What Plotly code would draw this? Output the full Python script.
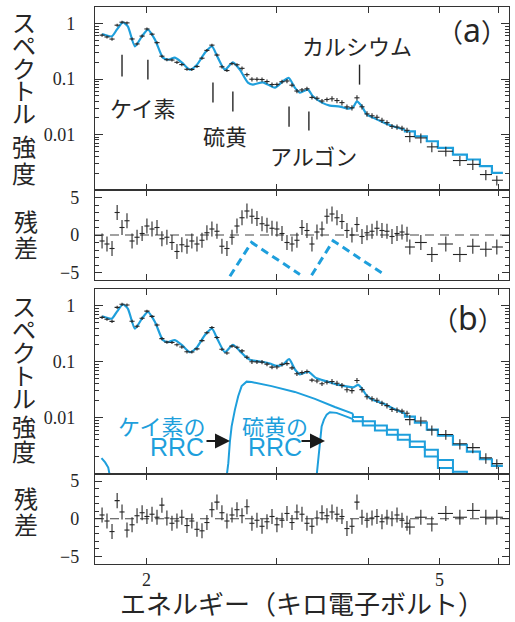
import math
import plotly.graph_objects as go

# ---------------- data ----------------
# narrow bins (keV), spectrum value, 1-sigma error
energy = [1.738, 1.765, 1.793, 1.822, 1.850, 1.879, 1.909, 1.939, 1.970, 2.000,
          2.032, 2.064, 2.096, 2.129, 2.163, 2.197, 2.231, 2.267, 2.302, 2.339,
          2.376, 2.413, 2.451, 2.490, 2.529, 2.569, 2.610, 2.651, 2.693, 2.735,
          2.778, 2.822, 2.867, 2.912, 2.958, 3.004, 3.052, 3.100, 3.149, 3.198,
          3.249, 3.300, 3.352, 3.405, 3.459, 3.513, 3.569, 3.625, 3.682, 3.740,
          3.799, 3.859, 3.920, 3.982, 4.045, 4.108, 4.173, 4.239, 4.306, 4.374,
          4.443, 4.513]
flux = [0.621, 0.576, 0.528, 0.940, 1.064, 1.034, 0.530, 0.431, 0.598, 0.803,
        0.647, 0.455, 0.259, 0.224, 0.221, 0.201, 0.183, 0.1505, 0.1496, 0.1694,
        0.2384, 0.330, 0.410, 0.272, 0.1669, 0.1429, 0.1899, 0.1817, 0.1565, 0.1205,
        0.0996, 0.0992, 0.0984, 0.0905, 0.0799, 0.0803, 0.0898, 0.0925, 0.0777, 0.0610,
        0.0639, 0.0669, 0.0468, 0.0451, 0.0403, 0.0429, 0.0442, 0.0411, 0.0377, 0.0316,
        0.0304, 0.0460, 0.0317, 0.0236, 0.0218, 0.0205, 0.0181, 0.0164, 0.01405, 0.01365,
        0.01304, 0.01193]
flux_err = [0.040, 0.037, 0.034, 0.060, 0.068, 0.066, 0.034, 0.028, 0.038, 0.051,
            0.041, 0.029, 0.017, 0.014, 0.014, 0.013, 0.012, 0.0096, 0.0096, 0.011,
            0.015, 0.021, 0.026, 0.017, 0.011, 0.0091, 0.012, 0.012, 0.013, 0.010,
            0.0086, 0.0085, 0.0085, 0.0078, 0.0069, 0.0069, 0.0077, 0.0080, 0.0067, 0.0052,
            0.0055, 0.0058, 0.0040, 0.0039, 0.0035, 0.0037, 0.0048, 0.0045, 0.0041, 0.0034,
            0.0033, 0.0050, 0.0035, 0.0026, 0.0024, 0.0022, 0.0020, 0.0018, 0.0015, 0.0015,
            0.0014, 0.0013]
resid_a = [-0.8, -1.2, -1.8, 3.0, 1.0, 1.9, -0.8, -0.3, 0.2, 1.2,
           0.8, 1.0, -0.5, -0.3, -1.0, -2.2, -1.3, -1.5, -0.8, -1.2,
           -0.7, 0.3, 0.8, 0.5, -1.5, -1.8, -0.3, 1.2, 2.3, 3.2,
           2.5, 2.2, 1.5, 1.3, 0.9, 0.8, 0.2, -1.0, -1.2, -0.7,
           1.0, 0.6, -1.2, 0.4, 0.8, 2.5, 2.8, 2.3, 1.8, 0.6,
           0.0, 1.4, -0.2, 0.3, 0.5, 0.9, 0.6, 0.5, -0.2, 0.2,
           0.4, 0.1]
resid_b = [0.5, -0.3, -1.7, 2.4, 0.9, -1.5, -0.8, 0.4, 0.8, 0.3,
           0.6, 0.2, 1.8, 0.1, -0.6, -0.3, 0.2, -0.9, -0.3, -1.4,
           -1.6, -0.5, 1.2, 2.2, 0.8, -0.3, 0.5, 1.2, 0.4, 1.6,
           -0.6, -0.2, -1.0, -0.4, 0.3, -0.8, -0.2, 0.7, -0.5, 0.9,
           0.6, -0.6, -1.0, 0.1, 0.8, 0.4, 0.9, 0.6, 0.3, -1.3,
           -1.0, 2.2, 0.2, -0.2, 0.1, 0.3, -0.4, 0.2, 0.0, 0.5,
           -0.2, -0.6]

# wide bins at high energy
hi_energy = [4.553, 4.713, 4.878, 5.096, 5.325, 5.545, 5.776, 5.978]
hi_lo = [4.484, 4.626, 4.802, 4.971, 5.211, 5.444, 5.670, 5.887]
hi_hi = [4.626, 4.802, 4.971, 5.211, 5.444, 5.670, 5.887, 6.093]
hi_flux = [0.0092, 0.0087, 0.0060, 0.0050, 0.0034, 0.0029, 0.0019, 0.0015]
hi_err = [0.0019, 0.0017, 0.0012, 0.0010, 0.0007, 0.0006, 0.0004, 0.0003]
hi_resid_a = [-1.6, -1.0, -2.6, -1.2, -2.6, -1.5, -1.9, -1.6]
hi_resid_b = [-1.1, 0.2, -0.7, 0.7, 0.2, 1.1, 0.2, 0.2]

# model (a): no RRC
model_a_E = [1.738, 1.792, 1.820, 1.855, 1.884, 1.926, 1.969, 2.006, 2.051, 2.102,
             2.136, 2.183, 2.232, 2.288, 2.339, 2.398, 2.451, 2.497, 2.553, 2.617,
             2.675, 2.743, 2.786, 2.875, 2.985, 3.060, 3.118, 3.177, 3.228, 3.310,
             3.362, 3.458, 3.545, 3.658, 3.751, 3.810, 3.858, 3.918, 3.981, 4.057,
             4.186, 4.318, 4.484]
model_a = [0.652, 0.590, 0.780, 1.055, 0.894, 0.390, 0.590, 0.780, 0.515, 0.244,
           0.225, 0.244, 0.198, 0.148, 0.182, 0.300, 0.390, 0.244, 0.148, 0.201,
           0.148, 0.0865, 0.0796, 0.0876, 0.0703, 0.0912, 0.105, 0.0703, 0.0571, 0.0647,
           0.049, 0.0377, 0.0333, 0.032, 0.0294, 0.0306, 0.0398, 0.0324, 0.0229, 0.0202,
           0.0167, 0.0141, 0.0122]
step_edges = [4.484, 4.626, 4.802, 4.971, 5.211, 5.444, 5.670, 5.887, 6.093]
model_a_steps = [0.01146, 0.0093, 0.00757, 0.00575, 0.00436, 0.00355, 0.00269, 0.00204]

# model (b): with RRC
model_b_E = [1.738, 1.792, 1.820, 1.855, 1.884, 1.926, 1.969, 2.006, 2.051, 2.102,
             2.136, 2.183, 2.232, 2.288, 2.339, 2.398, 2.451, 2.497, 2.553, 2.617,
             2.675, 2.718, 2.760, 2.848, 2.938, 3.001, 3.064, 3.121, 3.177, 3.228,
             3.313, 3.401, 3.510, 3.620, 3.735, 3.814, 3.874, 3.918, 3.977, 4.060,
             4.190, 4.322, 4.484]
model_b = [0.652, 0.590, 0.780, 1.055, 0.894, 0.390, 0.590, 0.780, 0.515, 0.244,
           0.225, 0.244, 0.198, 0.148, 0.182, 0.300, 0.390, 0.244, 0.148, 0.201,
           0.1546, 0.1256, 0.1087, 0.1009, 0.0929, 0.0840, 0.0902, 0.111, 0.0733, 0.0595,
           0.0661, 0.0504, 0.0445, 0.0393, 0.0362, 0.0347, 0.0385, 0.0333, 0.0249, 0.0207,
           0.0179, 0.0145, 0.0118]
model_b_steps = [0.01043, 0.00813, 0.00608, 0.00474, 0.00327, 0.00247, 0.0018, 0.00137]

# RRC components (b)
si_rrc_E = [2.567, 2.580, 2.593, 2.607, 2.634, 2.661, 2.690, 2.732, 2.775, 2.954,
            3.177, 3.383, 3.601, 3.810]
si_rrc = [0.0009, 0.00153, 0.00374, 0.00697, 0.0139, 0.0242, 0.0366, 0.0440, 0.0433, 0.0366,
          0.0288, 0.0216, 0.01546, 0.0118]
si_rrc_edges = [3.810, 3.930, 4.082, 4.238, 4.385, 4.553, 4.772, 4.971, 5.211, 5.444]
si_rrc_steps = [0.0103, 0.0086, 0.00722, 0.00608, 0.00494, 0.00374, 0.00265, 0.00175, 0.00108]
s_rrc_E = [3.401, 3.418, 3.437, 3.455, 3.480, 3.510, 3.545, 3.620, 3.774, 3.810]
s_rrc = [0.0009, 0.00175, 0.0035, 0.00697, 0.0092, 0.01133, 0.01245, 0.01216, 0.00988, 0.0094]
s_rrc_edges = [3.810, 3.930, 4.082, 4.238, 4.385, 4.553, 4.772, 4.971, 5.211]
s_rrc_steps = [0.0086, 0.00722, 0.0059, 0.00494, 0.00402, 0.00297, 0.00201, 0.00126]
low_rrc_E = [1.735, 1.755, 1.772, 1.781]
low_rrc = [0.00188, 0.00158, 0.00128, 0.0009]

# RRC residual shapes drawn in (a)
rrc_res_si_E = [2.593, 2.775, 3.228]
rrc_res_si = [-5.5, -0.99, -5.27]
rrc_res_s_E = [3.348, 3.582, 4.168]
rrc_res_s = [-5.36, -0.77, -5.04]

# emission line markers (keV) and their labels
line_groups = [
    ("ケイ素", [1.85, 2.006]),
    ("硫黄", [2.459, 2.617]),
    ("アルゴン", [3.12, 3.32]),
    ("カルシウム", [3.89]),
]

x_tick_vals = [2, 3, 4, 5, 6]
x_label_vals = [2, 5]
x_label_text = ["2", "5"]

# ---------------- styling / layout helpers ----------------
W, H = 515, 622
L, R, T, B = 95, 6, 7, 58
PW, PH = W - L - R, H - T - B
BLUE = "#1e9fdc"
INK = "#262626"
FRAME = "#333333"
JP = "Noto Sans CJK JP"
SERIF = "Liberation Serif"


def px(x):
    return (x - L) / PW


def py(y):
    return (H - B - y) / PH


def staircase(edges, levels, start=None, end=None):
    xs, ys = [], []
    if start is not None:
        xs.append(edges[0]); ys.append(start)
    for i, lv in enumerate(levels):
        xs += [edges[i], edges[i + 1]]
        ys += [lv, lv]
    if end is not None:
        xs.append(edges[-1]); ys.append(end)
    return xs, ys


fig = go.Figure()


def data_traces(xa, ya, yvals_lo, yerr_lo, yvals_hi, yerr_hi, const_err=False):
    def ey(arr):
        if const_err:
            return dict(type="constant", value=1, thickness=1.1, width=0, color=INK)
        return dict(type="data", array=arr, thickness=1.1, width=0, color=INK)
    fig.add_trace(go.Scatter(
        x=energy, y=yvals_lo, mode="markers", xaxis=xa, yaxis=ya,
        marker=dict(size=2, color=INK, opacity=0),
        error_y=ey(yerr_lo),
        error_x=dict(type="percent", value=0.8, thickness=1.1, width=0, color=INK),
        showlegend=False, hoverinfo="skip"))
    fig.add_trace(go.Scatter(
        x=hi_energy, y=yvals_hi, mode="markers", xaxis=xa, yaxis=ya,
        marker=dict(size=2, color=INK, opacity=0),
        error_y=ey(yerr_hi),
        error_x=dict(type="data", symmetric=False,
                     array=[h - c for h, c in zip(hi_hi, hi_energy)],
                     arrayminus=[c - l for l, c in zip(hi_lo, hi_energy)],
                     thickness=1.1, width=0, color=INK),
        showlegend=False, hoverinfo="skip"))


def line(xs, ys, xa, ya, shape="linear", width=2.2, dash=None, smooth=None):
    ln = dict(color=BLUE, width=width, shape=shape)
    if dash:
        ln["dash"] = dash
    if smooth is not None:
        ln["smoothing"] = smooth
    fig.add_trace(go.Scatter(x=xs, y=ys, mode="lines", xaxis=xa, yaxis=ya, line=ln,
                             showlegend=False, hoverinfo="skip"))


# ---- panel (a) spectrum ----
line(model_a_E, model_a, "x", "y", shape="spline", smooth=0.6)
sx, sy = staircase(step_edges, model_a_steps, start=model_a[-1])
line(sx, sy, "x", "y")
data_traces("x", "y", flux, flux_err, hi_flux, hi_err)

# line markers
LINE_SPANS = {1.85: (0.276, 0.112), 2.006: (0.2245, 0.098), 2.459: (0.0865, 0.0377),
              2.617: (0.0596, 0.026), 3.12: (0.032, 0.0139), 3.32: (0.026, 0.0118),
              3.89: (0.1825, 0.0796)}
mx, my = [], []
for _, es in line_groups:
    for e in es:
        a, b = LINE_SPANS[e]
        mx += [e, e, None]
        my += [a, b, None]
fig.add_trace(go.Scatter(x=mx, y=my, mode="lines", xaxis="x", yaxis="y",
                         line=dict(color=INK, width=1.4), showlegend=False, hoverinfo="skip"))

# ---- panel (a) residuals ----
fig.add_trace(go.Scatter(x=[1.70, 6.21], y=[0, 0], mode="lines", xaxis="x2", yaxis="y2",
                         line=dict(color="#444", width=1.2, dash="9px,6px"),
                         showlegend=False, hoverinfo="skip"))
data_traces("x2", "y2", resid_a, None, hi_resid_a, None, const_err=True)
line(rrc_res_si_E, rrc_res_si, "x2", "y2", width=3, dash="8px,5px")
line(rrc_res_s_E, rrc_res_s, "x2", "y2", width=3, dash="8px,5px")

# ---- panel (b) spectrum ----
line(low_rrc_E, low_rrc, "x3", "y3", width=2)
line(si_rrc_E, si_rrc, "x3", "y3", width=2)
sx, sy = staircase(si_rrc_edges, si_rrc_steps, start=si_rrc[-1], end=0.0005)
line(sx, sy, "x3", "y3", width=2)
line(s_rrc_E, s_rrc, "x3", "y3", width=2)
sx, sy = staircase(s_rrc_edges, s_rrc_steps, start=s_rrc[-1], end=0.0005)
line(sx, sy, "x3", "y3", width=2)
line(model_b_E, model_b, "x3", "y3", shape="spline", smooth=0.6)
sx, sy = staircase(step_edges, model_b_steps, start=model_b[-1])
line(sx, sy, "x3", "y3")
data_traces("x3", "y3", flux, flux_err, hi_flux, hi_err)

# ---- panel (b) residuals ----
fig.add_trace(go.Scatter(x=[1.70, 6.21], y=[0, 0], mode="lines", xaxis="x4", yaxis="y4",
                         line=dict(color="#444", width=1.2, dash="9px,6px"),
                         showlegend=False, hoverinfo="skip"))
data_traces("x4", "y4", resid_b, None, hi_resid_b, None, const_err=True)

# ---------------- axes ----------------
xr = [math.log10(1.70), math.log10(6.21)]
frame = dict(showline=True, mirror="allticks", linecolor=FRAME, linewidth=1.3,
             ticks="inside", tickcolor=FRAME, tickwidth=1.2, showgrid=False, zeroline=False)
minor_log = [m * 10 ** k for k in (-3, -2, -1, 0) for m in range(2, 10) if m * 10 ** k <= 2]


def xaxis(anchor):
    d = dict(frame, type="log", range=xr, anchor=anchor, domain=[0, 1], ticklen=6,
             tickvals=x_tick_vals, showticklabels=False)
    if anchor != "y4":
        d["matches"] = "x4"
    return d


def yspec(dom):
    return dict(frame, type="log", range=[-3, math.log10(2)], domain=dom,
                tickvals=[0.01, 0.1, 1], ticktext=["0.01", "0.1", "1"], ticklen=8,
                minor=dict(tickvals=minor_log, ticks="inside", ticklen=4, tickcolor=FRAME,
                           tickwidth=1.0, showgrid=False),
                tickfont=dict(family=SERIF, size=18, color=INK), ticklabelstandoff=15)


def yres(dom):
    return dict(frame, range=[-6, 6], domain=dom,
                tickvals=[-5, 0, 5], ticktext=["−5", "0", "5"], ticklen=7,
                minor=dict(dtick=1, ticks="inside", ticklen=4, tickcolor=FRAME,
                           tickwidth=1.0, showgrid=False),
                tickfont=dict(family=SERIF, size=18, color=INK), ticklabelstandoff=11)


dom_spec_a = [py(190), py(7)]
dom_res_a = [py(280), py(190)]
dom_spec_b = [py(473.5), py(289)]
dom_res_b = [0, py(473.5)]

ya = yspec(dom_spec_a); ya["anchor"] = "x"
yra = yres(dom_res_a); yra["anchor"] = "x2"
yb = yspec(dom_spec_b); yb["anchor"] = "x3"
yrb = yres(dom_res_b); yrb["anchor"] = "x4"

# ---------------- text ----------------
ann = []


def txt(s, x, y, size, color=INK, family=JP, **kw):
    d = dict(text=s, x=px(x), y=py(y), xref="paper", yref="paper", showarrow=False,
             font=dict(family=family, size=size, color=color), xanchor="center", yanchor="middle")
    d.update(kw)
    ann.append(d)


def vtext(s, x, y_first, y_last, glyph=24):
    """Upright vertical text: one glyph per line; line pitch set by the base font size."""
    n = len(s)
    pitch = (y_last - y_first) / (n - 1) if n > 1 else glyph
    base = pitch / 1.3
    body = "<br>".join(f"<span style='font-size:{glyph}px'>{c}</span>" for c in s)
    txt(body, x, (y_first + y_last) / 2, base)


# x tick labels (bottom axis)
for v, t in zip(x_label_vals, x_label_text):
    ann.append(dict(text=t, x=math.log10(v), xref="x4", y=py(580), yref="paper",
                    showarrow=False, xanchor="center", yanchor="middle",
                    font=dict(family=SERIF, size=18, color=INK)))

# vertical axis titles
vtext("スペクトル", 24, 22, 113)
vtext("強度", 24, 145, 172)
vtext("スペクトル", 24, 305, 397)
vtext("強度", 24, 425, 450)
vtext("残差", 26, 220, 246)
vtext("残差", 26, 497, 523)

txt("エネルギー（キロ電子ボルト）", 302, 602, 26)

# element labels (a)
txt(line_groups[0][0], 143, 107, 22)
txt(line_groups[1][0], 225, 135, 22)
txt(line_groups[2][0], 313, 155, 22)
txt(line_groups[3][0], 357, 45, 22)

panel_tag = "<span style='font-size:26px'>（</span>{}<span style='font-size:26px'>）</span>"
txt(panel_tag.format("a"), 472, 30, 32, family="Noto Sans, " + JP)
txt(panel_tag.format("b"), 468, 317, 32, family="Noto Sans, " + JP)

# RRC labels (b)
txt("ケイ素の", 162, 425, 22, color=BLUE)
txt("RRC", 177, 447, 25, color=BLUE, family="Liberation Sans")
txt("硫黄の", 275, 425, 22, color=BLUE)
txt("RRC", 275, 447, 25, color=BLUE, family="Liberation Sans")
for hx in (230, 325):
    ann.append(dict(x=px(hx), y=py(441), xref="paper", yref="paper", ax=-25, ay=0,
                    text="", showarrow=True, arrowhead=2, arrowsize=1.5, arrowwidth=2,
                    arrowcolor="#1a1a1a"))

fig.update_layout(
    width=W, height=H, margin=dict(l=L, r=R, t=T, b=B, pad=0),
    paper_bgcolor="white", plot_bgcolor="white",
    xaxis=xaxis("y"), xaxis2=xaxis("y2"),
    xaxis3=xaxis("y3"), xaxis4=xaxis("y4"),
    yaxis=ya, yaxis2=yra, yaxis3=yb, yaxis4=yrb,
    annotations=ann, showlegend=False,
)

fig.write_html("out.html")
